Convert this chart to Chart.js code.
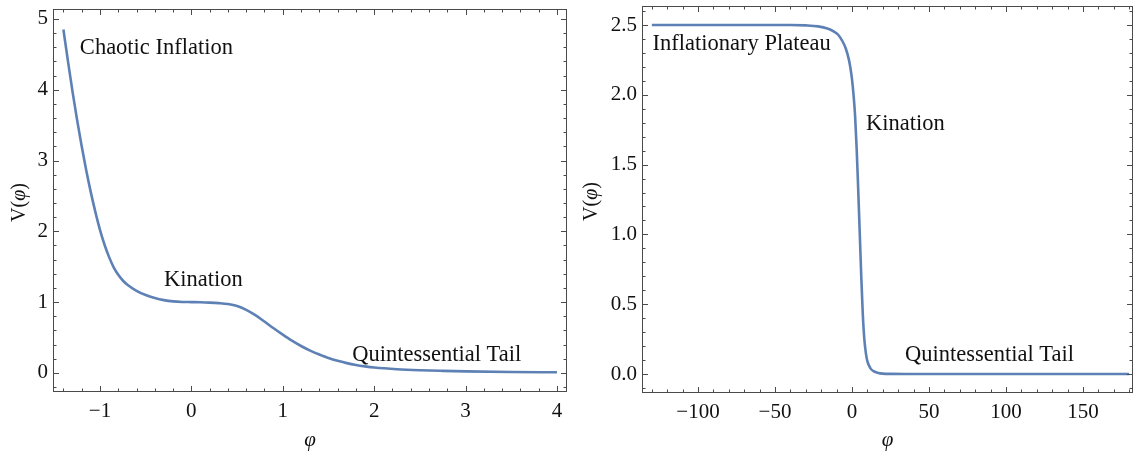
<!DOCTYPE html>
<html><head><meta charset="utf-8">
<script src="https://cdn.jsdelivr.net/npm/chart.js@4/dist/chart.umd.min.js"></script>
<style>
html,body{margin:0;padding:0;background:#fff;width:1140px;height:459px;overflow:hidden}
.w{position:absolute;top:0;height:459px}
#a{left:0;width:575px}#b{left:575px;width:565px}
</style></head><body>
<div class="w" id="a"><canvas id="c1" width="575" height="459"></canvas></div>
<div class="w" id="b"><canvas id="c2" width="565" height="459"></canvas></div>
<script>
// ---- data ----
const phiLeft = [-1.40,-1.35,-1.30,-1.25,-1.20,-1.15,-1.10,-1.05,-1.00,-0.95,-0.90,-0.85,-0.80,-0.75,-0.70,-0.60,-0.50,-0.40,-0.30,-0.20,-0.10,0.00,0.10,0.20,0.30,0.40,0.50,0.60,0.70,0.80,0.90,1.00,1.10,1.20,1.30,1.40,1.50,1.60,1.70,1.80,1.90,2.00,2.25,2.50,2.75,3.00,3.50,4.00];
const vLeft   = [4.85,4.40,3.97,3.57,3.20,2.86,2.55,2.27,2.02,1.81,1.635,1.49,1.385,1.305,1.245,1.16,1.10,1.058,1.028,1.01,1.002,1.00,0.998,0.993,0.985,0.972,0.945,0.89,0.815,0.725,0.63,0.54,0.455,0.38,0.315,0.26,0.21,0.17,0.138,0.112,0.092,0.076,0.052,0.038,0.029,0.022,0.013,0.008];
const phiRight = [-130,-100,-60,-40,-30,-22,-16,-12,-9,-6,-4,-2,-1,0,1,2,3,4,5,6,7,8,9,10,12,14,17,20,25,40,80,120,180];
const vRight   = [2.5,2.5,2.5,2.5,2.497,2.49,2.475,2.455,2.43,2.38,2.33,2.25,2.19,2.11,2.0,1.85,1.62,1.33,1.02,0.7,0.43,0.25,0.15,0.09,0.04,0.02,0.008,0.003,0.001,0,0,0,0];
const xTicksLeft  = [-1,0,1,2,3,4];
const yTicksLeft  = [0,1,2,3,4,5];
const xTicksRight = [-100,-50,0,50,100,150];
const yTicksRight = [0,0.5,1,1.5,2,2.5];
const labelsLeft  = ["Chaotic Inflation","Kination","Quintessential Tail"];
const labelsRight = ["Inflationary Plateau","Kination","Quintessential Tail"];
const xTitle = "φ";
const yTitleA = "V(";
const yTitleB = "φ";
const yTitleC = ")";

const SERIF = '"Liberation Serif","Times New Roman",serif';
const BLUE = '#5E81B5';
const fmtMinus = v => String(v).replace('-', '\u2212');

const framePlugin = {
  id: 'frame',
  afterDatasetsDraw(chart) {
    const o = chart.options.plugins.frame;
    const {ctx, chartArea: a, scales: {x, y}} = chart;
    ctx.save();
    // annotations
    ctx.fillStyle = '#111';
    ctx.font = '22.5px ' + SERIF;
    ctx.textBaseline = 'middle';
    ctx.textAlign = 'left';
    o.notes.forEach(n => ctx.fillText(n.text, x.getPixelForValue(n.x), y.getPixelForValue(n.y)));
    // frame
    ctx.strokeStyle = '#4a4a4a';
    ctx.lineWidth = 1;
    ctx.strokeRect(a.left + 0.5, a.top + 0.5, a.right - a.left - 1, a.bottom - a.top - 1);
    ctx.beginPath();
    const xt = (v, len) => { const p = Math.round(x.getPixelForValue(v)) + 0.5;
      ctx.moveTo(p, a.bottom); ctx.lineTo(p, a.bottom - len); ctx.moveTo(p, a.top); ctx.lineTo(p, a.top + len); };
    const yt = (v, len) => { const p = Math.round(y.getPixelForValue(v)) + 0.5;
      ctx.moveTo(a.left, p); ctx.lineTo(a.left + len, p); ctx.moveTo(a.right, p); ctx.lineTo(a.right - len, p); };
    const eps = 1e-9;
    for (let v = Math.ceil(x.min / o.xMinor) * o.xMinor; v <= x.max + eps; v += o.xMinor) {
      const major = Math.abs(v / o.xMajor - Math.round(v / o.xMajor)) < 1e-6;
      xt(v, major ? 6 : 3.5);
    }
    for (let v = Math.ceil(y.min / o.yMinor) * o.yMinor; v <= y.max + eps; v += o.yMinor) {
      const major = Math.abs(v / o.yMajor - Math.round(v / o.yMajor)) < 1e-6;
      yt(v, major ? 6 : 3.5);
    }
    ctx.stroke();
    // axis titles
    ctx.fillStyle = '#111';
    ctx.textAlign = 'center';
    ctx.font = 'italic 21px ' + SERIF;
    ctx.fillText(xTitle, (a.left + a.right) / 2, 440);
    ctx.translate(o.yTitleX, (a.top + a.bottom) / 2 + 2);
    ctx.rotate(-Math.PI / 2);
    ctx.textAlign = 'left';
    const fN = '20px ' + SERIF, fI = 'italic 20px ' + SERIF;
    ctx.font = fN; const wA = ctx.measureText(yTitleA).width, wC = ctx.measureText(yTitleC).width;
    ctx.font = fI; const wB = ctx.measureText(yTitleB).width;
    let sx = -(wA + wB + wC) / 2;
    ctx.font = fN; ctx.fillText(yTitleA, sx, 0); sx += wA;
    ctx.font = fI; ctx.fillText(yTitleB, sx, 0); sx += wB;
    ctx.font = fN; ctx.fillText(yTitleC, sx, 0);
    ctx.restore();
  }
};

function makeChart(id, xs, ys, cfg) {
  return new Chart(document.getElementById(id), {
    type: 'line',
    data: { datasets: [{
      data: xs.map((v, i) => ({x: v, y: ys[i]})),
      borderColor: BLUE, borderWidth: 2.6, pointRadius: 0,
      cubicInterpolationMode: 'monotone', fill: false
    }]},
    options: {
      responsive: false, animation: false, devicePixelRatio: 1,
      layout: { padding: cfg.pad },
      plugins: { legend: {display: false}, tooltip: {enabled: false},
        frame: cfg.frame },
      scales: {
        x: { type: 'linear', min: cfg.xMin, max: cfg.xMax,
          grid: {display: false, drawTicks: false}, border: {display: false},
          afterBuildTicks: s => { s.ticks = cfg.xTicks.map(v => ({value: v})); },
          afterFit: s => { s.height = cfg.xH; s.paddingLeft = 0; s.paddingRight = 0; s.paddingTop = 0; s.paddingBottom = 0; },
          ticks: { padding: 7, color: '#111', maxRotation: 0, autoSkip: false,
            font: {family: SERIF, size: 21}, callback: v => fmtMinus(cfg.xFmt(v)) } },
        y: { type: 'linear', min: cfg.yMin, max: cfg.yMax,
          grid: {display: false, drawTicks: false}, border: {display: false},
          afterBuildTicks: s => { s.ticks = cfg.yTicks.map(v => ({value: v})); },
          afterFit: s => { s.width = cfg.yW; s.paddingTop = 0; s.paddingBottom = 0; s.paddingLeft = 0; s.paddingRight = 0; },
          ticks: { padding: 5, color: '#111', autoSkip: false,
            font: {family: SERIF, size: 21}, callback: v => fmtMinus(cfg.yFmt(v)) } }
      }
    },
    plugins: [framePlugin]
  });
}

makeChart('c1', phiLeft, vLeft, {
  pad: {top: 9, right: 8, left: 0, bottom: 0},
  xMin: -1.514, xMax: 4.11, yMin: -0.27, yMax: 5.14,
  xTicks: xTicksLeft, yTicks: yTicksLeft, xH: 67, yW: 53,
  xFmt: v => v.toFixed(0), yFmt: v => v.toFixed(0),
  frame: { xMajor: 1, xMinor: 0.2, yMajor: 1, yMinor: 0.2, yTitleX: 20,
    notes: [
      {text: labelsLeft[0], x: -1.22, y: 4.59},
      {text: labelsLeft[1], x: -0.30, y: 1.31},
      {text: labelsLeft[2], x: 1.76, y: 0.25}
    ] }
});

makeChart('c2', phiRight, vRight, {
  pad: {top: 6, right: 7, left: 0, bottom: 0},
  xMin: -136.4, xMax: 182.5, yMin: -0.136, yMax: 2.636,
  xTicks: xTicksRight, yTicks: yTicksRight, xH: 66, yW: 67,
  xFmt: v => v.toFixed(0), yFmt: v => v.toFixed(1),
  frame: { xMajor: 50, xMinor: 10, yMajor: 0.5, yMinor: 0.1, yTitleX: 17,
    notes: [
      {text: labelsRight[0], x: -129.5, y: 2.36},
      {text: labelsRight[1], x: 9.1, y: 1.79},
      {text: labelsRight[2], x: 34.4, y: 0.136}
    ] }
});
</script>
</body></html>
